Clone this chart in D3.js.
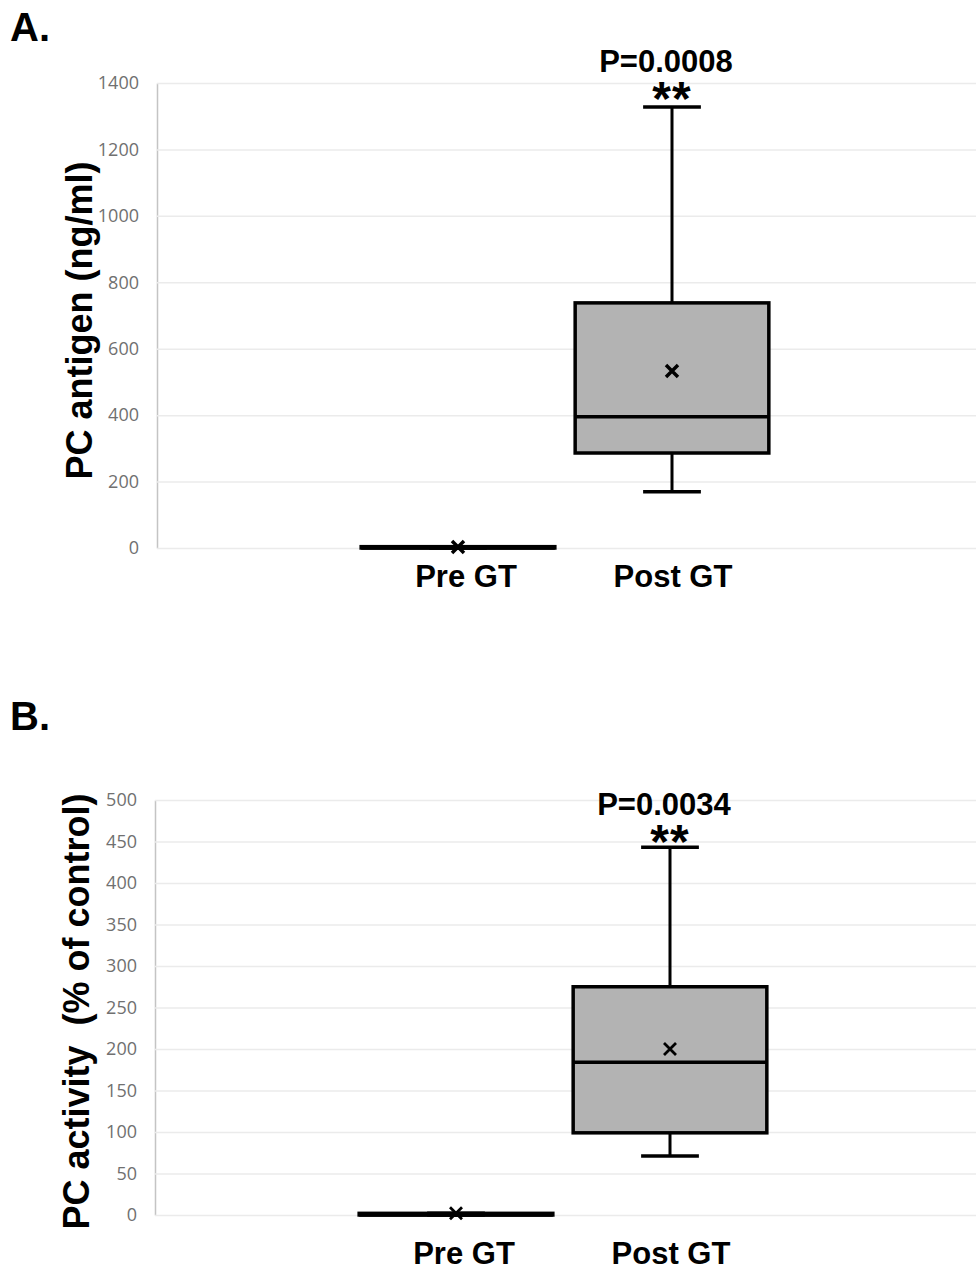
<!DOCTYPE html>
<html>
<head>
<meta charset="utf-8">
<script src="https://cdn.jsdelivr.net/npm/d3@7"></script>
<style>
  body { margin: 0; background: #fff; }
  svg { display: block; }
  .tick text { font-family: "Open Sans", sans-serif; font-size: 18px; fill: #707070; }
  .bold { font-family: "Liberation Sans", Arial, sans-serif; font-weight: bold; fill: #000; white-space: pre; }
</style>
</head>
<body>
<script>
  const width = 976;
  const height = 1271;

  const categories = ["Pre GT", "Post GT"];

  // panel A: PC antigen (ng/ml)
  const antigenTicks = [0, 200, 400, 600, 800, 1000, 1200, 1400];
  const antigenMin = [0, 169];
  const antigenQ1 = [0, 286];
  const antigenMedian = [0, 395];
  const antigenQ3 = [4, 738];
  const antigenMax = [4, 1328];
  const antigenMean = [3, 533];

  // panel B: PC activity (% of control)
  const activityTicks = [0, 50, 100, 150, 200, 250, 300, 350, 400, 450, 500];
  const activityMin = [0, 71];
  const activityQ1 = [0, 99];
  const activityMedian = [0, 184];
  const activityQ3 = [2, 275];
  const activityMax = [2, 443];
  const activityMean = [2, 200];

  const svg = d3.select("body").append("svg")
    .attr("width", width)
    .attr("height", height);

  function panel(opt) {
    var g = svg.append("g");

    var y = d3.scaleLinear()
      .domain([0, d3.max(opt.ticks)])
      .range([opt.bottom, opt.top]);

    var x = d3.scaleBand()
      .domain(categories)
      .range(opt.xRange);

    var axis = g.append("g")
      .attr("transform", "translate(" + opt.left + ",0)")
      .call(d3.axisLeft(y)
        .tickValues(opt.ticks)
        .tickFormat(d3.format("d"))
        .tickSizeInner(-(width - opt.left))
        .tickSizeOuter(0)
        .tickPadding(18));
    axis.selectAll(".tick line").attr("stroke", "#ebebeb").attr("stroke-width", 1.5);
    axis.select(".domain").attr("stroke", "#c4c4c4").attr("stroke-width", 1.5);

    var data = categories.map(function(c, i) {
      return { cat: c, min: opt.min[i], q1: opt.q1[i], med: opt.median[i],
               q3: opt.q3[i], max: opt.max[i], mean: opt.mean[i] };
    });

    var boxW = x.bandwidth() * 0.905;
    var capW = x.bandwidth() * 0.27;

    var box = g.selectAll(".box")
      .data(data)
      .enter()
      .append("g")
        .attr("class", "box")
        .attr("transform", function(d) { return "translate(" + (x(d.cat) + x.bandwidth() / 2) + ",0)"; });

    // whiskers
    box.append("line")
      .attr("y1", function(d) { return y(d.max); })
      .attr("y2", function(d) { return y(d.min); })
      .attr("stroke", "#000").attr("stroke-width", 3);
    box.selectAll(".cap")
      .data(function(d) { return [d.min, d.max]; })
      .enter()
      .append("line")
        .attr("x1", -capW / 2).attr("x2", capW / 2)
        .attr("y1", function(v) { return y(v); })
        .attr("y2", function(v) { return y(v); })
        .attr("stroke", "#000").attr("stroke-width", 3.5);

    box.append("rect")
      .attr("x", -boxW / 2)
      .attr("width", boxW)
      .attr("y", function(d) { return y(d.q3); })
      .attr("height", function(d) { return y(d.q1) - y(d.q3); })
      .attr("fill", "#b3b3b3")
      .attr("stroke", "#000").attr("stroke-width", 3.5);

    box.append("line")
      .attr("x1", -boxW / 2).attr("x2", boxW / 2)
      .attr("y1", function(d) { return y(d.med); })
      .attr("y2", function(d) { return y(d.med); })
      .attr("stroke", "#000").attr("stroke-width", 3.5);

    // mean marker
    var m = 6;
    box.append("path")
      .attr("d", "M" + (-m) + "," + (-m) + "L" + m + "," + m + "M" + (-m) + "," + m + "L" + m + "," + (-m))
      .attr("transform", function(d) { return "translate(0," + y(d.mean) + ")"; })
      .attr("stroke", "#000").attr("stroke-width", opt.meanStroke);

    // category labels
    g.selectAll(".cat")
      .data(categories)
      .enter()
      .append("text")
        .attr("class", "bold")
        .attr("x", function(c, i) { return x(c) + x.bandwidth() / 2 + (i == 0 ? 8 : 1); })
        .attr("y", opt.catY)
        .attr("text-anchor", "middle")
        .attr("font-size", 31)
        .text(function(c) { return c; });

    // significance
    var cx = x("Post GT") + x.bandwidth() / 2;
    g.append("text")
      .attr("class", "bold")
      .attr("x", cx - 6).attr("y", opt.pY)
      .attr("text-anchor", "middle")
      .attr("font-size", 31)
      .text(opt.pText);
    g.append("text")
      .attr("class", "bold")
      .attr("x", cx).attr("y", opt.pY + 43)
      .attr("text-anchor", "middle")
      .attr("font-size", 48)
      .attr("letter-spacing", 1)
      .text("**");

    // y title
    g.append("text")
      .attr("class", "bold")
      .attr("transform", "translate(" + opt.titleX + "," + ((opt.top + opt.bottom) / 2 + opt.titleDy) + ") rotate(-90)")
      .attr("text-anchor", "middle")
      .attr("font-size", 36)
      .text(opt.title);

    // panel letter
    g.append("text")
      .attr("class", "bold")
      .attr("x", 10).attr("y", opt.letterY)
      .attr("font-size", 40)
      .text(opt.letter);
  }

  panel({
    letter: "A.", letterY: 41,
    title: "PC antigen (ng/ml)", titleX: 92, titleDy: 5,
    ticks: antigenTicks, top: 83, bottom: 548, left: 157,
    xRange: [351, 779],
    min: antigenMin, q1: antigenQ1, median: antigenMedian,
    q3: antigenQ3, max: antigenMax, mean: antigenMean,
    meanStroke: 3.5, catY: 587,
    pText: "P=0.0008", pY: 72
  });

  panel({
    letter: "B.", letterY: 730,
    title: "PC activity  (% of control)", titleX: 89, titleDy: 4,
    ticks: activityTicks, top: 800, bottom: 1215, left: 155,
    xRange: [349, 777],
    min: activityMin, q1: activityQ1, median: activityMedian,
    q3: activityQ3, max: activityMax, mean: activityMean,
    meanStroke: 2.8, catY: 1264,
    pText: "P=0.0034", pY: 815
  });
</script>
</body>
</html>
